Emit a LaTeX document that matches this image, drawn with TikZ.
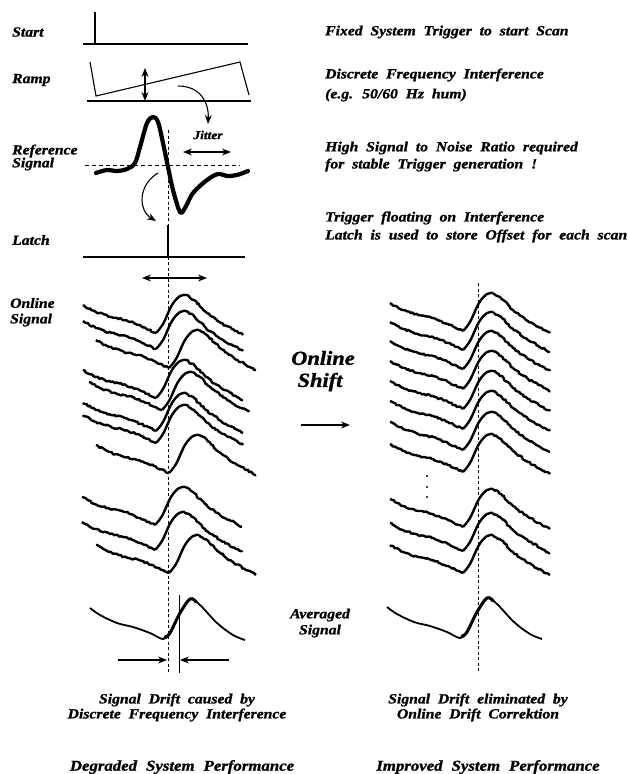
\documentclass[tikz,border=0pt]{standalone}
\usepackage{fontspec}
\setmainfont{Liberation Serif}[FakeStretch=1.12,WordSpace=2,BoldItalicFeatures={FakeBold=1.2}]
\usetikzlibrary{arrows.meta,decorations.pathmorphing}
\begin{document}
\begin{tikzpicture}[x=1pt,y=-1pt,
  lab/.style={font=\fontsize{14}{16}\selectfont\bfseries\itshape, inner sep=0pt},
  big/.style={font=\fontsize{20}{22}\selectfont\bfseries\itshape, inner sep=0pt},
  perf/.style={font=\fontsize{15}{17}\selectfont\bfseries\itshape, inner sep=0pt},
  small/.style={font=\fontsize{12}{14}\selectfont\bfseries\itshape, inner sep=0pt},
  thin/.style={line width=1.1pt},
  pulse/.style={line width=2.8pt},
  tip/.tip={Stealth[length=9pt,width=7pt]},
  dbl/.style={thin,{tip}-{tip}},
  one/.style={thin,-{tip}},
  dsh/.style={line width=1pt,dash pattern=on 4pt off 3pt},
  tr/.style={line width=2.4pt,line join=round,decorate,
     decoration={random steps,segment length=2pt,amplitude=0.9pt}},
  trace/.pic={
    \draw[tr] (-73,-28) -- (-60,-21) -- (-45,-16) -- (-30,-13) -- (-15,-7) -- (0,0);
    \draw[line width=2.4pt,line join=round] plot[smooth,tension=0.6] coordinates {(0,0) (7,-9) (16,-28) (24,-37) (30,-38)};
    \draw[tr] (30,-38) -- (38,-33) -- (50,-21) -- (65,-10) -- (87,2);
  },
  avg/.pic={
    \draw[line width=1.8pt,line join=round] plot[smooth,tension=0.6] coordinates {(-73,-31) (-63,-24) (-46,-16) (-30,-12) (-13,-6) (0,0) (7,-6) (17,-26) (27,-40) (37,-34) (54,-16) (70,-4) (82,1)};
    \draw[line width=3pt,line cap=round] plot[smooth,tension=0.6] coordinates {(2,-2) (7,-6) (17,-26) (27,-40) (33,-37)};
  }]
\useasboundingbox (0,0) rectangle (628,774);

% ---------- left labels ----------
\node[lab,anchor=west] (lstart) at (12,32) {Start};
\node[lab,anchor=west] (lramp) at (12,80) {Ramp};
\node[lab,anchor=west] (lref1) at (12,151) {Reference};
\node[lab,anchor=west] (lref2) at (12,164) {Signal};
\node[lab,anchor=west] (llatch) at (12,240) {Latch};
\node[lab,anchor=west] (lon1) at (10,303) {Online};
\node[lab,anchor=west] (lon2) at (10,320) {Signal};

% ---------- right texts ----------
\node[lab,anchor=west] (t1) at (325,32) {Fixed System Trigger to start Scan};
\node[lab,anchor=west] (t2) at (325,75) {Discrete Frequency Interference};
\node[lab,anchor=west] (t3) at (325,95) {(e.g. 50/60 Hz hum)};
\node[lab,anchor=west] (t4) at (325,148) {High Signal to Noise Ratio required};
\node[lab,anchor=west] (t5) at (325,165) {for stable Trigger generation !};
\node[lab,anchor=west] (t6) at (325,218) {Trigger floating on Interference};
\node[lab,anchor=west] (t7) at (325,236) {Latch is used to store Offset for each scan};

% ---------- start ----------
\draw[thin] (83,44) -- (248,44);
\draw[pulse] (95,44) -- (95,12);

% ---------- ramp ----------
\draw[thin] (87,101) -- (251,101);
\draw[thin,line join=miter] (90,62) -- (96,96) -- (240,62) -- (249,95);
\coordinate (ra) at (145,68);
\coordinate (rb) at (145,101);
\draw[dbl] (ra) -- (rb);
\coordinate (c1a) at (178,86);
\coordinate (c1b) at (208,124);
\draw[one] (c1a) .. controls (200,86) and (209,102) .. (c1b);

% ---------- reference signal ----------
\draw[dsh] (85,165) -- (240,165);
\coordinate (vtop) at (168,130);
\coordinate (vbot) at (168,673);
\draw[line width=1pt,dash pattern=on 3pt off 2.5pt] (vtop) -- (vbot);
\draw[line width=4.2pt,line join=round,line cap=round] plot[smooth,tension=0.55] coordinates {
 (96,173) (107,170) (117,171) (127,169) (135,163) (140,147) (147,123) (153,117) (158,122) (163,143) (168,167) (173,190) (180,212) (185,208) (193,193) (207,180) (218,174) (227,176) (237,175) (248,171)};
\node[small] (jit) at (208,135) {Jitter};
\coordinate (ja) at (183,152);
\coordinate (jb) at (231,152);
\draw[dbl] (ja) -- (jb);
\coordinate (c2a) at (158,173);
\coordinate (c2b) at (156,221);
\draw[one] (c2a) .. controls (138,185) and (138,210) .. (c2b);

% ---------- latch ----------
\draw[thin] (83,257) -- (245,257);
\draw[pulse] (168,257) -- (168,225);

% ---------- online signals left ----------
\coordinate (oa) at (142,278);
\coordinate (ob) at (207,278);
\draw[dbl] (oa) -- (ob);
\pic (l1) at (156,333) {trace};
\pic (l2) at (156,349) {trace};
\pic (l3) at (169,368) {trace};
\pic (l4) at (156,398) {trace};
\pic (l5) at (162,410) {trace};
\pic (l6) at (156,431) {trace};
\pic (l7) at (156,443) {trace};
\pic (l8) at (169,473) {trace};
\pic (l9) at (155,525) {trace};
\pic (l10) at (155,550) {trace};
\pic (l11) at (169,573) {trace};

% ---------- online shift ----------
\node[big] (os1) at (323,358) {Online};
\node[big] (os2) at (320,382) {Shift};
\coordinate (sa) at (301,425);
\coordinate (sb) at (350,425);
\draw[line width=1.3pt,-{tip}] (sa) -- (sb);

% ---------- online signals right ----------
\coordinate (rtop) at (478,283);
\coordinate (rbot) at (478,673);
\draw[line width=1pt,dash pattern=on 3pt off 2.5pt] (rtop) -- (rbot);
\pic (r1) at (463,331) {trace};
\pic (r2) at (463,350) {trace};
\pic (r3) at (463,369) {trace};
\pic (r4) at (463,389) {trace};
\pic (r5) at (463,409) {trace};
\pic (r6) at (463,429) {trace};
\pic (r7) at (463,450) {trace};
\pic (r8) at (463,472) {trace};
\fill (427,476) circle (1.1pt) (427,487) circle (1.1pt) (427,497) circle (1.1pt);
\pic (r9) at (463,527) {trace};
\pic (r10) at (463,551) {trace};
\pic (r11) at (463,573) {trace};

% ---------- averaged ----------
\pic (al) at (163,639) {avg};
\pic (ar) at (460,638) {avg};
\node[lab] (av1) at (320,615) {Averaged};
\node[lab] (av2) at (320,631) {Signal};
\coordinate (mt) at (179,595);
\coordinate (mb) at (179,673);
\draw[line width=0.8pt] (mt) -- (mb);
\coordinate (pa) at (118,660);
\coordinate (pb) at (167,660);
\coordinate (qa) at (229,660);
\coordinate (qb) at (180,660);
\draw[one] (pa) -- (pb);
\draw[one] (qa) -- (qb);

% ---------- bottom texts ----------
\node[lab] (b1) at (177,700) {Signal Drift caused by};
\node[lab] (b2) at (177,715) {Discrete Frequency Interference};
\node[perf] (b3) at (182,767) {Degraded\hspace{9pt}System\hspace{9pt}Performance};
\node[lab] (b4) at (478,700) {Signal Drift eliminated by};
\node[lab] (b5) at (478,715) {Online Drift Correktion};
\node[perf] (b6) at (488,767) {Improved\hspace{9pt}System\hspace{9pt}Performance};
\end{tikzpicture}
\end{document}
